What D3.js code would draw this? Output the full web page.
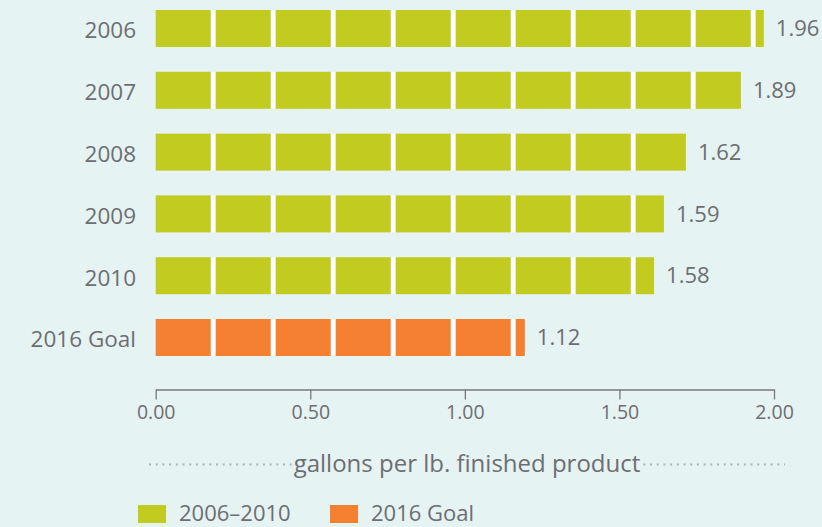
<!DOCTYPE html>
<html>
<head>
<meta charset="utf-8">
<script src="https://cdn.jsdelivr.net/npm/d3@7/dist/d3.min.js"></script>
<style>
  html, body { margin: 0; padding: 0; background: #e5f3f3; }
  svg { display: block; font-family: "Open Sans", Lato, sans-serif; }
</style>
</head>
<body>
<svg id="chart" width="822" height="527"></svg>
<script>
// ---- data ----
const categories = ["2006", "2007", "2008", "2009", "2010", "2016 Goal"];
// printed value labels
const valueLabels = [1.96, 1.89, 1.62, 1.59, 1.58, 1.12];
// bar lengths as drawn in the original picture (the source bars
// do not exactly match their printed labels)
const barLengths = [1.967, 1.893, 1.715, 1.644, 1.612, 1.194];
const groups = ["2006–2010", "2006–2010", "2006–2010", "2006–2010", "2006–2010", "2016 Goal"];
const legendLabels = ["2006–2010", "2016 Goal"];
const xTicks = [0, 0.5, 1.0, 1.5, 2.0];
const axisTitle = "gallons per lb. finished product";

// ---- styles ----
const colorMap = { "2006–2010": "#c2cb20", "2016 Goal": "#f58031" };
const textColor = "#6d6e71";

const svg = d3.select("#chart");

const x = d3.scaleLinear().domain([0, 2]).range([155.7, 774]);
const step = 61.8, pi = 1 - 37 / step, po = pi / 2;
const y = d3.scaleBand()
  .domain(categories)
  .range([10 - po * step, 10 - po * step + categories.length * step])
  .paddingInner(pi).paddingOuter(po);

const rows = categories.map((c, i) => ({ cat: c, len: barLengths[i], label: valueLabels[i], group: groups[i] }));

// segmented bars
const segW = 55, segGap = 5;
const barG = svg.append("g");
rows.forEach(r => {
  const x0 = x(0), x1 = x(r.len);
  const starts = d3.range(x0, x1, segW + segGap);
  const g = barG.append("g");
  g.selectAll("rect.gap").data(starts.slice(1)).join("rect")
    .attr("class", "gap")
    .attr("x", s => s - segGap).attr("y", y(r.cat))
    .attr("width", segGap).attr("height", y.bandwidth())
    .attr("fill", "#ffffff");
  g.selectAll("rect.seg").data(starts).join("rect")
    .attr("class", "seg")
    .attr("x", s => s).attr("y", y(r.cat))
    .attr("width", s => Math.min(segW, x1 - s)).attr("height", y.bandwidth())
    .attr("fill", colorMap[r.group]);
});

// value labels
svg.append("g").selectAll("text").data(rows).join("text")
  .attr("x", d => x(d.len) + 12)
  .attr("y", d => y(d.cat) + y.bandwidth() / 2)
  .attr("dy", "0.35em")
  .attr("fill", textColor)
  .attr("font-size", 22)
  .text(d => d.label.toFixed(2));

// category labels
svg.append("g").selectAll("text").data(rows).join("text")
  .attr("x", 136)
  .attr("y", d => y(d.cat) + y.bandwidth() / 2 + 2)
  .attr("dy", "0.35em")
  .attr("text-anchor", "end")
  .attr("fill", textColor)
  .attr("font-size", 22.5)
  .text(d => d.cat);

// x axis
const axis = svg.append("g")
  .attr("transform", "translate(0,389.5)")
  .call(d3.axisBottom(x).tickValues(xTicks).tickFormat(d3.format(".2f"))
    .tickSize(10).tickSizeOuter(0).tickPadding(6));
axis.selectAll("path, line").attr("stroke", "#77787b").attr("stroke-width", 1.3);
axis.selectAll("text").attr("fill", textColor).attr("font-size", 19.5)
  .attr("font-family", "'Open Sans', sans-serif");

// axis title with dotted leaders (font sized to span the same width as the original)
const titleY = 472;
const title = svg.append("text")
  .attr("x", 467).attr("y", titleY)
  .attr("text-anchor", "middle")
  .attr("fill", textColor)
  .attr("font-size", 22)
  .text(axisTitle);
let tw = title.node().getComputedTextLength();
const fs = Math.min(24, 22 * 354 / tw);
title.attr("font-size", fs);
tw = title.node().getComputedTextLength();
const tl = 467 - tw / 2, tr = 467 + tw / 2;
const dotY = 464.5;
[[149, tl - 2], [tr + 3, 785]].forEach(([a, b]) => {
  svg.append("line")
    .attr("x1", a).attr("x2", b).attr("y1", dotY).attr("y2", dotY)
    .attr("stroke", "#aeb3b4").attr("stroke-width", 2)
    .attr("stroke-dasharray", "2,4.7");
});

// legend
const legendX = [138, 330];
const leg = svg.append("g").selectAll("g").data(legendLabels).join("g")
  .attr("transform", (d, i) => `translate(${legendX[i]},505)`);
leg.append("rect").attr("width", 28).attr("height", 18).attr("fill", d => colorMap[d]);
leg.append("text").attr("x", 41).attr("y", 16)
  .attr("fill", textColor).attr("font-size", 22).text(d => d);
</script>
</body>
</html>
